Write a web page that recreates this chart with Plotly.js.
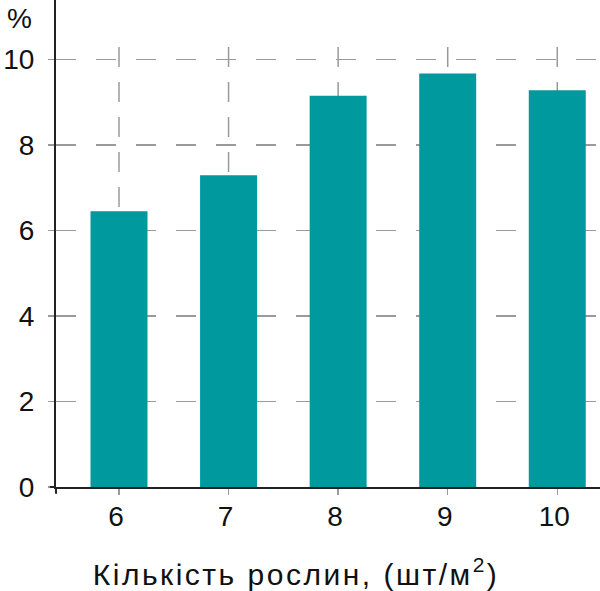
<!DOCTYPE html>
<html>
<head>
<meta charset="utf-8">
<script src="https://cdn.plot.ly/plotly-3.0.1.min.js"></script>
<style>
html,body{margin:0;padding:0;background:#fff;}
#chart{width:600px;height:591px;}
#chart .annotation[data-index="1"] text{letter-spacing:2.5px;}
</style>
</head>
<body>
<div id="chart"></div>
<script>
const categories = ['6', '7', '8', '9', '10'];
const values = [6.45, 7.29, 9.15, 9.67, 9.28];
const yTicks = [0, 2, 4, 6, 8, 10];
const xTitle = 'Кількість рослин, (шт/м<sup>2</sup>)';
const yUnit = '%';

const FONT = 'Liberation Sans, Arial, Helvetica, sans-serif';
const GRID = '#9a9a9a';

const shapes = categories.map((c, i) => ({
  type: 'line', xref: 'x', yref: 'y', x0: i, x1: i, y0: 0, y1: 10.37,
  layer: 'below', line: {color: GRID, width: 1.5, dash: '20px,15px'}
}));
// small extensions of the axis lines past the corner
shapes.push({type: 'line', xref: 'paper', yref: 'paper', x0: 0, x1: 0, y0: 0, y1: -0.014,
  line: {color: '#222', width: 2}});
shapes.push({type: 'line', xref: 'paper', yref: 'paper', x0: 0, x1: -0.011, y0: 0, y1: 0,
  line: {color: '#222', width: 2}});

const data = [{
  type: 'bar', x: categories, y: values,
  marker: {color: '#00999e', line: {width: 0}},
  hoverinfo: 'skip'
}];

const layout = {
  width: 600, height: 591,
  margin: {l: 56, r: 0, t: 0, b: 104},
  paper_bgcolor: '#fff', plot_bgcolor: '#fff',
  font: {family: FONT, color: '#111', size: 28},
  showlegend: false,
  bargap: 0.48,
  xaxis: {
    type: 'category', range: [-0.575, 4.39],
    showgrid: false, zeroline: false,
    showline: true, linecolor: '#222', linewidth: 2,
    ticks: 'outside', ticklen: 6, tickcolor: GRID, tickwidth: 1.5,
    ticklabelstandoff: -3, ticklabelshift: -3,
    tickfont: {family: FONT, size: 28, color: '#111'},
    automargin: false, fixedrange: true
  },
  yaxis: {
    range: [0, 11.39], tickvals: yTicks, ticktext: yTicks.map(String),
    showgrid: true, gridcolor: GRID, gridwidth: 1.5, griddash: '20px,20px',
    zeroline: false,
    showline: true, linecolor: '#222', linewidth: 2,
    ticks: 'outside', ticklen: 6, tickcolor: GRID, tickwidth: 1.5,
    ticklabelstandoff: 8,
    tickfont: {family: FONT, size: 28, color: '#111'},
    automargin: false, fixedrange: true
  },
  shapes: shapes,
  annotations: [{
    text: yUnit, xref: 'paper', yref: 'paper', x: -0.068, y: 1,
    xanchor: 'center', yanchor: 'top', showarrow: false,
    font: {family: FONT, size: 28, color: '#111'}, yshift: -1
  }, {
    text: xTitle, xref: 'paper', yref: 'paper', x: 0.441, y: -0.1745,
    xanchor: 'center', yanchor: 'middle', showarrow: false,
    font: {family: FONT, size: 30, color: '#111'}
  }]
};

Plotly.newPlot('chart', data, layout, {displayModeBar: false, staticPlot: true});
</script>
</body>
</html>
